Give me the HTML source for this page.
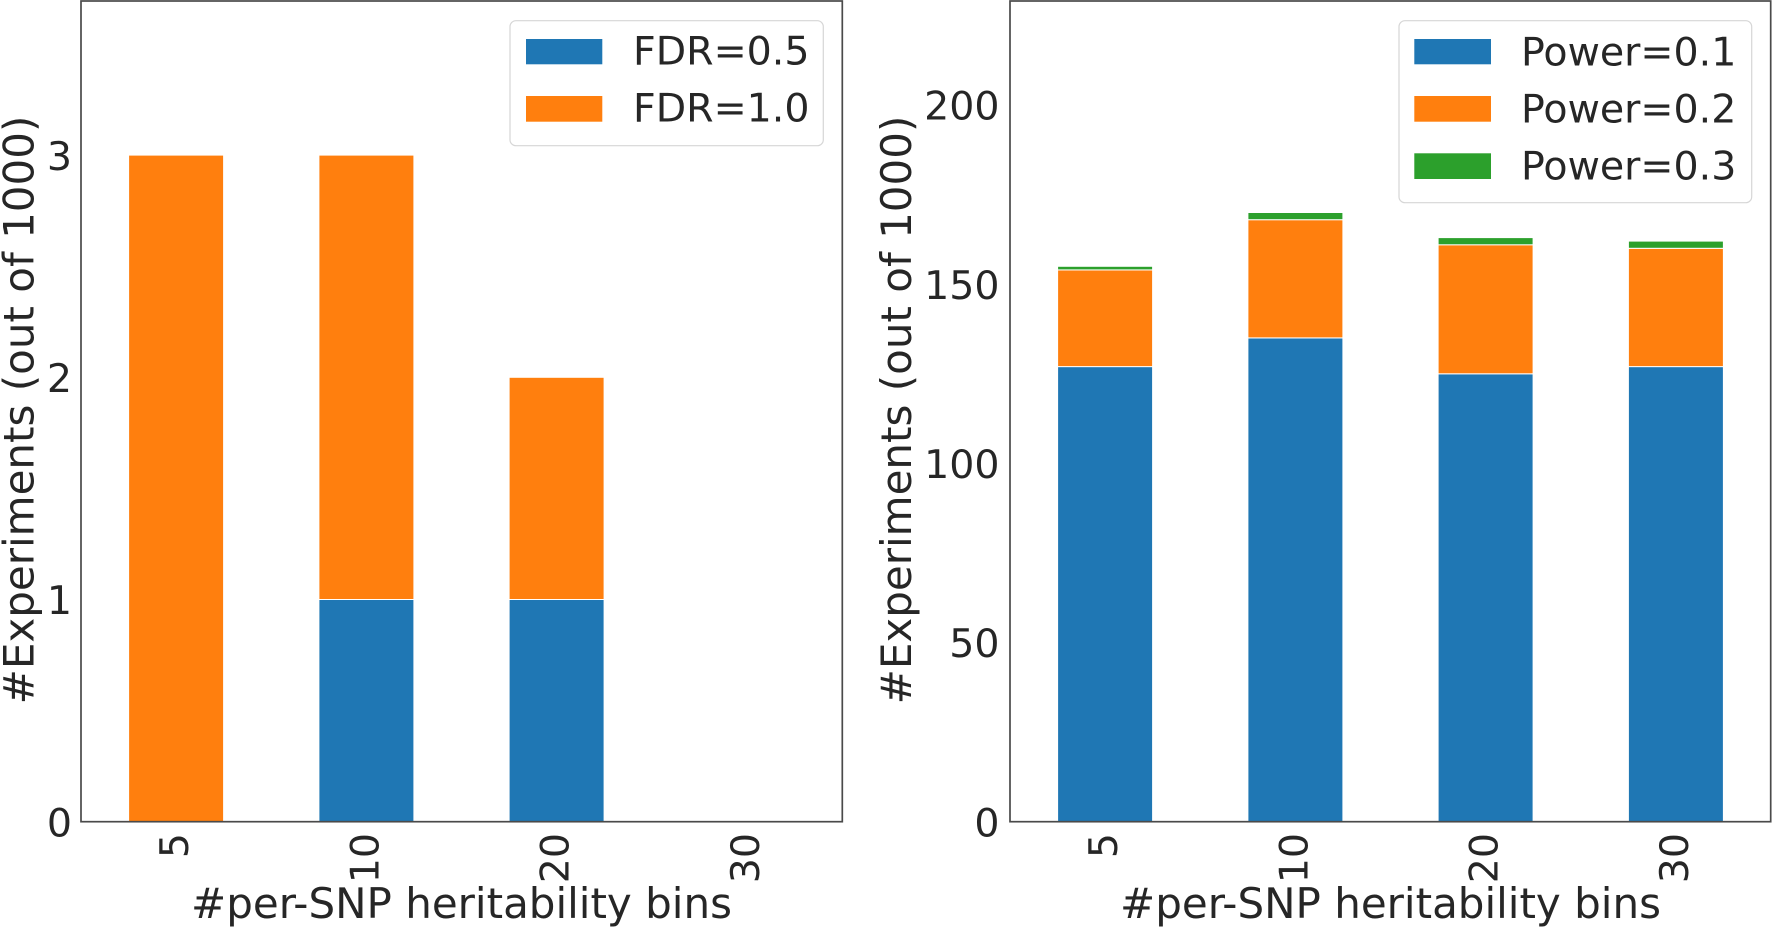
<!DOCTYPE html>
<html>
<head>
<meta charset="utf-8">
<style>
  html, body { margin:0; padding:0; background:#ffffff; }
  svg { display:block; }
  text { font-family: "DejaVu Sans", "Liberation Sans", sans-serif; fill:#262626; }
  .tick { font-size:39.5px; }
  .leg { font-size:39.5px; }
  .lab { font-size:42px; }
</style>
</head>
<body>
<svg width="1772" height="929" viewBox="0 0 1772 929" xmlns="http://www.w3.org/2000/svg">
  <rect x="0" y="0" width="1772" height="929" fill="#ffffff"/>

  <!-- ================= LEFT PANEL ================= -->
  <!-- bars: y0=821.7, 222.2 px/unit -->
  <g stroke="#ffffff" stroke-width="1">
    <!-- bin 5: orange 0-3 -->
    <rect x="128.6" y="155.1" width="95" height="666.6" fill="#ff7f0e"/>
    <!-- bin 10: blue 0-1, orange 1-3 -->
    <rect x="318.9" y="599.5" width="95" height="222.2" fill="#1f77b4"/>
    <rect x="318.9" y="155.1" width="95" height="444.4" fill="#ff7f0e"/>
    <!-- bin 20: blue 0-1, orange 1-2 -->
    <rect x="509.1" y="599.5" width="95" height="222.2" fill="#1f77b4"/>
    <rect x="509.1" y="377.3" width="95" height="222.2" fill="#ff7f0e"/>
  </g>
  <!-- spines -->
  <rect x="81" y="1" width="761.3" height="820.7" fill="none" stroke="#4a4a4a" stroke-width="1.7"/>

  <!-- y ticks -->
  <g class="tick" text-anchor="end">
    <text x="72" y="836.4">0</text>
    <text x="72" y="614.2">1</text>
    <text x="72" y="392.0">2</text>
    <text x="72" y="169.8">3</text>
  </g>
  <!-- x ticks -->
  <g class="tick" text-anchor="end">
    <text transform="translate(188,833) rotate(-90)">5</text>
    <text transform="translate(378.4,833) rotate(-90)">10</text>
    <text transform="translate(568.6,833) rotate(-90)">20</text>
    <text transform="translate(758.9,833) rotate(-90)">30</text>
  </g>
  <!-- axis labels -->
  <text class="lab" x="461.5" y="918" text-anchor="middle">#per-SNP heritability bins</text>
  <text class="lab" transform="translate(33.5,410) rotate(-90)" text-anchor="middle">#Experiments (out of 1000)</text>

  <!-- legend -->
  <rect x="510" y="20.7" width="313.3" height="125" rx="6" ry="6" fill="#ffffff" fill-opacity="0.9" stroke="#d6d6d6" stroke-width="1.2"/>
  <rect x="526" y="39" width="76.3" height="25.3" fill="#1f77b4"/>
  <rect x="526" y="96" width="76.3" height="25.7" fill="#ff7f0e"/>
  <g class="leg">
    <text x="633" y="64.5">FDR=0.5</text>
    <text x="633" y="121.7">FDR=1.0</text>
  </g>

  <!-- ================= RIGHT PANEL ================= -->
  <!-- y0=821.7, 3.5835 px/unit -->
  <g stroke="#ffffff" stroke-width="1">
    <!-- bin 5: 127, 27, 1 -->
    <rect x="1057.6" y="366.6" width="95" height="455.1" fill="#1f77b4"/>
    <rect x="1057.6" y="269.9" width="95" height="96.7" fill="#ff7f0e"/>
    <rect x="1057.6" y="266.3" width="95" height="3.6" fill="#2ca02c"/>
    <!-- bin 10: 135, 33, 2 -->
    <rect x="1247.9" y="337.9" width="95" height="483.8" fill="#1f77b4"/>
    <rect x="1247.9" y="219.7" width="95" height="118.2" fill="#ff7f0e"/>
    <rect x="1247.9" y="212.5" width="95" height="7.2" fill="#2ca02c"/>
    <!-- bin 20: 125, 36, 2 -->
    <rect x="1438.1" y="373.8" width="95" height="447.9" fill="#1f77b4"/>
    <rect x="1438.1" y="244.7" width="95" height="129.1" fill="#ff7f0e"/>
    <rect x="1438.1" y="237.6" width="95" height="7.2" fill="#2ca02c"/>
    <!-- bin 30: 127, 33, 2 -->
    <rect x="1628.4" y="366.6" width="95" height="455.1" fill="#1f77b4"/>
    <rect x="1628.4" y="248.3" width="95" height="118.3" fill="#ff7f0e"/>
    <rect x="1628.4" y="241.1" width="95" height="7.2" fill="#2ca02c"/>
  </g>
  <!-- spines -->
  <rect x="1010" y="1" width="760.7" height="820.7" fill="none" stroke="#4a4a4a" stroke-width="1.7"/>

  <!-- y ticks -->
  <g class="tick" text-anchor="end">
    <text x="999.5" y="836.4">0</text>
    <text x="999.5" y="657.2">50</text>
    <text x="999.5" y="478.1">100</text>
    <text x="999.5" y="298.9">150</text>
    <text x="999.5" y="119.7">200</text>
  </g>
  <!-- x ticks -->
  <g class="tick" text-anchor="end">
    <text transform="translate(1117,833) rotate(-90)">5</text>
    <text transform="translate(1307.4,833) rotate(-90)">10</text>
    <text transform="translate(1497.6,833) rotate(-90)">20</text>
    <text transform="translate(1687.9,833) rotate(-90)">30</text>
  </g>
  <!-- axis labels -->
  <text class="lab" x="1390.5" y="918" text-anchor="middle">#per-SNP heritability bins</text>
  <text class="lab" transform="translate(911,410) rotate(-90)" text-anchor="middle">#Experiments (out of 1000)</text>

  <!-- legend -->
  <rect x="1399" y="20.7" width="352.7" height="182" rx="6" ry="6" fill="#ffffff" fill-opacity="0.9" stroke="#d6d6d6" stroke-width="1.2"/>
  <rect x="1414.3" y="39" width="76.7" height="25.3" fill="#1f77b4"/>
  <rect x="1414.3" y="96" width="76.7" height="25.7" fill="#ff7f0e"/>
  <rect x="1414.3" y="153.3" width="76.7" height="25.7" fill="#2ca02c"/>
  <g class="leg">
    <text x="1521" y="65.5">Power=0.1</text>
    <text x="1521" y="122.5">Power=0.2</text>
    <text x="1521" y="179.5">Power=0.3</text>
  </g>
</svg>
</body>
</html>
